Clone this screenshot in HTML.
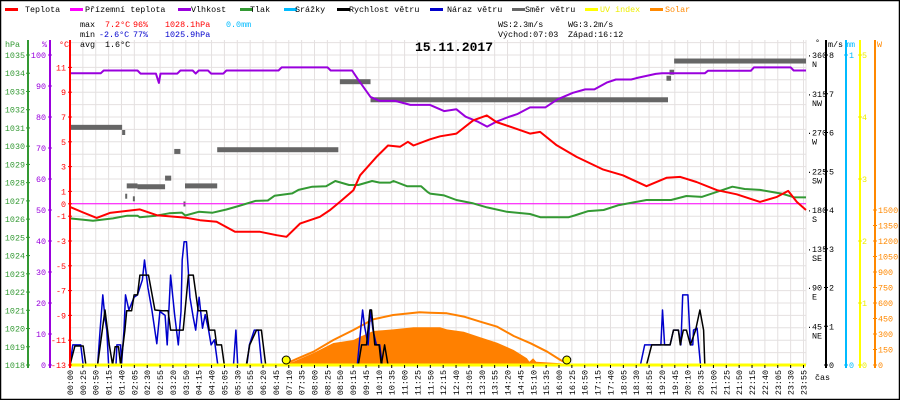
<!DOCTYPE html>
<html><head><meta charset="utf-8"><style>
html,body{margin:0;padding:0;background:#fff}
svg{display:block}
text{font-family:"Liberation Mono",monospace;font-size:8.4px}
</style></head><body>
<svg id="chart" width="900" height="400" viewBox="0 0 900 400" xmlns="http://www.w3.org/2000/svg">
<rect x="0.5" y="0.5" width="899" height="399" fill="#fff" stroke="#000" stroke-width="1.5"/>
<g id="grid"></g>
<g id="series"></g>
<g id="axes"></g>
<g>
 <g><rect x="5" y="8" width="13" height="3" fill="#f00"/><text x="25" y="12">Teplota</text></g>
 <g><rect x="70" y="8" width="13" height="3" fill="#f0f"/><text x="85" y="12">Přízemní teplota</text></g>
 <g><rect x="178" y="8" width="13" height="3" fill="#90d"/><text x="191" y="12">Vlhkost</text></g>
 <g><rect x="240" y="8" width="13" height="3" fill="#393"/><text x="250" y="12">Tlak</text></g>
 <g><rect x="284" y="8" width="13" height="3" fill="#0bf"/><text x="295" y="12">Srážky</text></g>
 <g><rect x="337" y="8" width="13" height="3" fill="#000"/><text x="349" y="12">Rychlost větru</text></g>
 <g><rect x="430" y="8" width="13" height="3" fill="#00c"/><text x="447" y="12">Náraz větru</text></g>
 <g><rect x="512" y="8" width="13" height="3" fill="#666"/><text x="525" y="12">Směr větru</text></g>
 <g><rect x="585" y="8" width="13" height="3" fill="#ff0"/><text x="600" y="12" fill="#ee0">UV index</text></g>
 <g><rect x="650" y="8" width="13" height="3" fill="#f80"/><text x="665" y="12" fill="#f80">Solar</text></g>
</g>
<g>
 <text x="80" y="27">max</text><text x="105" y="27" fill="#f00">7.2°C</text><text x="133" y="27" fill="#f00">96%</text><text x="165" y="27" fill="#f00">1028.1hPa</text><text x="226" y="27" fill="#0bf">0.0mm</text>
 <text x="80" y="37">min</text><text x="99" y="37" fill="#00c">-2.6°C</text><text x="133" y="37" fill="#00c">77%</text><text x="165" y="37" fill="#00c">1025.9hPa</text>
 <text x="80" y="47">avg</text><text x="105" y="47">1.6°C</text>
 <text x="498" y="27">WS:2.3m/s</text><text x="568" y="27">WG:3.2m/s</text>
 <text x="498" y="37">Východ:07:03</text><text x="568" y="37">Západ:16:12</text>
</g>
<text x="415" y="51" style="font-size:13px;font-weight:bold">15.11.2017</text>
</svg>
<script>
// ---- data ----
const tempT=[0,0.43,0.87,1.3,2.28,2.83,3.8,4.24,4.78,5.38,6.2,6.74,7.06,7.5,8.15,8.48,8.8,9.24,9.46,10,10.37,10.76,11.02,11.2,11.74,12.07,12.6,13.15,13.59,13.9,14.45,15,15.33,15.87,16.52,17.39,18.03,18.8,19.45,19.9,20.43,21.1,21.74,22.5,23.05,23.42,23.7,24];
const tempV=[-0.25,-0.7,-1.14,-0.73,-0.45,-0.92,-1.13,-1.32,-1.45,-2.26,-2.26,-2.53,-2.66,-1.6,-1.05,-0.5,0.15,1.1,2.3,3.8,4.7,4.6,5.0,4.7,5.2,5.44,5.66,6.73,7.13,6.6,6.14,5.66,5.8,4.72,3.78,2.76,2.3,1.42,2.1,2.17,1.76,1.1,0.77,0.15,0.56,1.04,0.15,-0.5];
const groundT=[0,24];
const groundV=[0,0];
const humT=[0,1.0,1.1,2.2,2.3,2.8,2.9,2.95,3.5,3.6,4.0,4.1,4.2,4.5,4.6,5.0,5.1,6.8,6.9,8.4,8.5,9.2,9.4,9.8,10.1,10.2,10.6,11.1,11.2,11.74,12.2,12.6,12.9,13.3,13.6,13.9,14.3,14.6,15.0,15.5,15.9,16.4,16.8,17.1,17.5,17.8,18.3,18.5,19.1,19.3,20.7,20.8,22.2,22.3,23.5,23.6,24];
const humV=[94.1,94.1,95,95,94,94,91,94,94,95,95,94,95,95,94,94,95,95,96,96,95,95,92,86.5,85.2,85.2,85.2,83.9,83.9,83.9,81.9,82.5,80.1,78.5,76.9,78.5,80,81,83.1,83.1,85.7,87.8,88.9,88.9,91.1,92.1,92.1,92.6,93.9,94.1,94.1,94.9,94.9,96,96,95,95];
const presT=[0,0.75,1.4,1.87,2.2,2.28,2.8,3.23,3.65,3.76,4.2,4.65,5.1,5.5,6.05,6.45,6.67,7.25,7.45,7.9,8.35,8.65,9.1,9.4,9.85,10.1,10.44,10.55,11.0,11.45,11.65,11.74,12.2,12.6,13.15,13.6,14.25,15.0,15.35,15.75,16.25,16.45,16.9,17.4,17.9,18.8,19.25,19.6,20.1,20.6,21.1,21.6,22.0,22.5,23.2,23.6,24];
const presV=[1026.04,1025.91,1026.04,1026.19,1026.19,1026.1,1026.19,1026.32,1026.36,1026.2,1026.4,1026.35,1026.53,1026.72,1027.0,1027.02,1027.28,1027.41,1027.6,1027.78,1027.8,1028.09,1027.87,1027.87,1028.09,1028.0,1028.0,1028.09,1027.8,1027.8,1027.5,1027.4,1027.3,1027.05,1026.86,1026.64,1026.4,1026.28,1026.1,1026.1,1026.1,1026.2,1026.44,1026.5,1026.77,1027.05,1027.05,1027.05,1027.27,1027.22,1027.5,1027.78,1027.65,1027.6,1027.4,1027.2,1027.19];
const dirStart=[0,1.7,1.8,1.85,2.05,2.2,3.1,3.4,3.7,3.75,4.8,8.8,9.8,19.45,19.55,19.7];
const dirEnd=[1.7,1.8,1.85,2.2,2.1,3.1,3.3,3.6,3.75,4.8,8.75,9.8,19.5,19.6,19.7,24];
const dirDeg=[276,270,196,208,193,207,217,248,187,208,250,329,308,333,340,353];
const windT=[0,0.16,0.43,0.52,0.9,1.14,1.28,1.39,1.47,1.58,1.65,1.79,1.85,2.01,2.09,2.2,2.28,2.56,2.77,3.0,3.2,3.28,3.69,3.86,4.02,4.18,4.45,4.54,4.72,4.78,4.94,5.03,5.75,5.86,6.08,6.24,6.38,9.4,9.51,9.67,9.78,9.83,9.94,10.08,10.15,10.26,10.37,18.8,18.97,19.57,19.68,19.84,19.9,20.0,20.1,20.23,20.4,20.54,20.66,20.7,24];
const windV=[0,0.49,0.49,0,0,1.42,0.52,0,0.47,0.47,0,0.9,1.4,1.4,1.81,1.81,2.32,2.32,1.42,1.4,1.4,0.9,0.9,2.32,2.32,1.4,1.4,0.9,0.9,0.52,0.52,0,0,0.52,0.9,0.9,0,0,0.52,0.52,1.42,1.42,0.52,0.52,0,0.52,0,0,0.52,0.52,0.9,0.9,0.52,0.9,0.9,0.52,0.9,1.42,0.9,0,0];
const gustT=[0,0.09,0.35,0.43,0.9,0.98,1.07,1.14,1.2,1.26,1.5,1.53,1.65,1.68,1.76,1.81,1.92,2.09,2.2,2.36,2.43,2.54,2.67,2.83,2.93,3.1,3.17,3.28,3.41,3.53,3.62,3.66,3.72,3.8,3.91,4.02,4.1,4.21,4.32,4.41,4.52,4.6,4.71,4.82,5.33,5.41,5.47,5.77,5.85,6.01,6.14,6.25,9.37,9.43,9.54,9.61,9.72,9.8,9.88,9.99,10.1,10.18,18.6,18.74,18.95,19.27,19.32,19.39,19.57,19.68,19.84,19.92,19.98,20.15,20.23,20.31,20.33,20.45,20.56,24];
const gustV=[0,0.52,0.52,0,0,0.9,1.81,1.2,0.9,0,0,0.52,0.52,0,0.9,1.81,1.42,1.75,1.81,2.2,2.71,2.0,1.42,0.55,1.38,1.28,0.52,2.32,1.3,0.52,1.38,2.71,3.18,3.18,1.75,1.22,0.9,1.75,0.95,1.3,0.9,0.52,0.65,0,0,0.9,0,0,0.52,0.9,0.9,0,0,0.52,1.42,0.98,0.52,1.42,0.9,0.52,0.52,0,0,0.52,0.52,0.52,1.42,0.52,0.52,0.9,0.9,0.52,1.81,1.81,0.52,0.52,0.9,0.95,0,0];
const solarT=[6.95,7.28,7.94,8.59,9.24,9.46,9.89,10.54,11.2,11.74,12.07,12.29,12.84,13.38,13.93,14.47,14.9,14.98,15.1,15.2,16.0,16.3];
const solarV=[0,32,116,213,242,274,329,345,365,365,365,345,322,268,216,145,65,32,65,32,16,0];
const sunMaxT=[6.95,7.4,7.94,8.59,9.24,9.89,10.54,11.4,11.74,12.29,12.84,13.38,13.93,14.47,15.02,15.56,15.99,16.3];
const sunMaxV=[0,60,129,242,339,442,484,510,505,500,468,419,371,281,210,129,48,0];
const uvT=[0,24];
const uvV=[0,0];
const sunEventT=[7.05,16.2];
const hpaTicks=[1035,1034,1033,1032,1031,1030,1029,1028,1027,1026,1025,1024,1023,1022,1021,1020,1019,1018];
const humTicks=[100,90,80,70,60,50,40,30,20,10,0];
const tempTicks=[11,9,7,5,3,1,0,-1,-3,-5,-7,-9,-11,-13];
const dirTicks=[360,315,270,225,180,135,90,45];
const dirNames=["N","NW","W","SW","S","SE","E","NE"];
const msTicks=[8,7,6,5,4,3,2,1,0];
const uvTicks=[5,4,3,2,1,0];
const wTicks=[1500,1350,1200,1050,900,750,600,450,300,150,0];
const timeLabels=["00:00","00:25","00:50","01:15","01:40","02:05","02:30","02:55","03:20","03:50","04:15","04:40","05:05","05:30","05:55","06:20","06:45","07:10","07:35","08:00","08:25","08:50","09:15","09:45","10:10","10:35","11:00","11:25","11:50","12:15","12:40","13:05","13:30","13:55","14:20","14:45","15:10","15:35","16:00","16:25","16:50","17:15","17:40","18:05","18:30","18:55","19:20","19:45","20:10","20:35","21:00","21:25","21:50","22:15","22:40","23:05","23:30","23:55"];

// ---- scales ----
const X0=70,X1=806,Y0=55,YB=365;
const xT=t=>X0+t*(X1-X0)/24;
const yTemp=v=>YB-(v+13)*(YB-Y0)/25;
const yHum=v=>YB-v*(YB-Y0)/100;
const yPres=v=>YB-(v-1018)*(YB-Y0)/17;
const yDir=v=>YB-v*(YB-Y0)/360;
const yWind=v=>YB-v*(YB-Y0)/8;
const yUV=v=>YB-v*(YB-Y0)/5;
const ySol=v=>YB-v*(YB-Y0)/3000;
const NS="http://www.w3.org/2000/svg";
function mk(tag,attrs,parent){const e=document.createElementNS(NS,tag);for(const k in attrs)e.setAttribute(k,attrs[k]);parent.appendChild(e);return e;}
const grid=document.getElementById('grid'),ser=document.getElementById('series'),axes=document.getElementById('axes');

// grid
for(let i=0;i<=29;i++){const y=YB-i*12.4;if(y<40)break;const l=mk('line',{x1:X0,x2:X1,y1:y,y2:y,stroke:'#e4e0e0','stroke-width':1},grid);

}
const dx=(803.5-X0)/(timeLabels.length-1);
timeLabels.forEach((lab,i)=>{const x=X0+i*dx;
 const g=mk('line',{x1:x,x2:x,y1:40,y2:YB,stroke:'#e4e0e0','stroke-width':1},grid);
 
 
 const tk=mk('line',{x1:x,x2:x,y1:YB,y2:YB+3,stroke:'#000'},axes);
 
 
 const t=mk('text',{x:0,y:0,transform:`translate(${x+3},370) rotate(-90)`,'text-anchor':'end'},axes);
 t.textContent=lab;
 
 
});
mk('line',{x1:X1,x2:X1,y1:40,y2:YB,stroke:'#e4e0e0'},grid);

function poly(T,V,yf,attrs,name){const pts=T.map((t,i)=>xT(t).toFixed(1)+','+yf(V[i]).toFixed(1)).join(' ');const p=mk('polyline',Object.assign({points:pts,fill:'none','stroke-linejoin':'round'},attrs),ser);
 
 return p;}

// solar fill
{const pts=solarT.map((t,i)=>xT(t).toFixed(1)+','+ySol(solarV[i]).toFixed(1));pts.push(xT(solarT[solarT.length-1])+','+YB);pts.unshift(xT(solarT[0])+','+YB);
 const p=mk('polygon',{points:pts.join(' '),fill:'#ff8000'},ser);
 
 }
poly(sunMaxT,sunMaxV,ySol,{stroke:'#ff8000','stroke-width':2},'solar-max-line');
// wind direction
dirDeg.forEach((d,i)=>{const r=mk('rect',{x:xT(dirStart[i]),y:yDir(d)-2.5,width:Math.max(2,xT(dirEnd[i])-xT(dirStart[i])),height:5,fill:'#666'},ser);
 
 });
poly(groundT,groundV,yTemp,{stroke:'#f0f','stroke-width':1},'ground-temperature-line');
poly(presT,presV,yPres,{stroke:'#393','stroke-width':2},'pressure-line');
poly(humT,humV,yHum,{stroke:'#90d','stroke-width':2},'humidity-line');
poly(tempT,tempV,yTemp,{stroke:'#f00','stroke-width':2},'temperature-line');
poly(gustT,gustV,yWind,{stroke:'#00c','stroke-width':1.5},'wind-gust-line');
poly(windT,windV,yWind,{stroke:'#000','stroke-width':1.5},'wind-speed-line');
poly(uvT,uvV,yUV,{stroke:'#ff0','stroke-width':3},'uv-index-line');
sunEventT.forEach(t=>{const c=mk('circle',{cx:xT(t),cy:YB-5,r:4,fill:'#ff0',stroke:'#000','stroke-width':1},ser);
 
 });

// axes
function vaxis(x,color,top,name){const l=mk('line',{x1:x,x2:x,y1:top,y2:YB+3,stroke:color,'stroke-width':2},axes);
 
 }
function lbl(x,y,s,color,anchor,name){const t=mk('text',{x:x,y:y+3,fill:color,'text-anchor':anchor},axes);t.textContent=s;
 
 return t;}
function tick(x,y,color,w){mk('line',{x1:x-w,x2:x+w,y1:y,y2:y,stroke:color},axes);}
vaxis(28,'#393',40,'pressure-axis');vaxis(50,'#90d',40,'humidity-axis');vaxis(70,'#f00',40,'temperature-axis');
lbl(5,44,'hPa','#393','start','pressure-axis-title');lbl(42,44,'%','#90d','start','humidity-axis-title');lbl(59,44,'°C','#f00','start','temperature-axis-title');
hpaTicks.forEach(v=>{tick(28,yPres(v),'#393',2);lbl(25,yPres(v),String(v),'#393','end','pressure-tick-label');});
humTicks.forEach(v=>{tick(50,yHum(v),'#90d',2);lbl(46,yHum(v),String(v),'#90d','end','humidity-tick-label');});
tempTicks.forEach(v=>{tick(70,yTemp(v),'#f00',2);lbl(66,yTemp(v),String(v),'#f00','end','temperature-tick-label');});
// right
dirTicks.forEach((v,i)=>{lbl(807,yDir(v),'·'+v,'#000','start','direction-tick-label');lbl(812,yDir(v)+9,dirNames[i],'#000','start','direction-name-label');});
lbl(815,42,'°','#000','start','direction-axis-title');
vaxis(826,'#000',40,'wind-speed-axis');lbl(828,44,'m/s','#000','start','wind-speed-axis-title');
msTicks.forEach(v=>{tick(826,yWind(v),'#000',2);lbl(829,yWind(v),String(v),'#000','start','wind-speed-tick-label');});
vaxis(846,'#0bf',40,'precipitation-axis');lbl(845,44,'mm','#0bf','start','precipitation-axis-title');
[[1,Y0],[0,YB]].forEach(([v,y])=>{tick(846,y,'#0bf',2);lbl(849,y,String(v),'#0bf','start','precipitation-tick-label');});
vaxis(860,'#ff0',40,'uv-axis');
uvTicks.forEach(v=>{tick(860,yUV(v),'#ee0',2);lbl(862,yUV(v),String(v),'#ee0','start','uv-tick-label');});
vaxis(875,'#f80',40,'solar-axis');lbl(877,44,'W','#f80','start','solar-axis-title');
wTicks.forEach(v=>{tick(875,ySol(v),'#f80',2);lbl(878,ySol(v),String(v),'#f80','start','solar-tick-label');});
lbl(815,377,'čas','#000','start','x-axis-title');
</script>
</body></html>
